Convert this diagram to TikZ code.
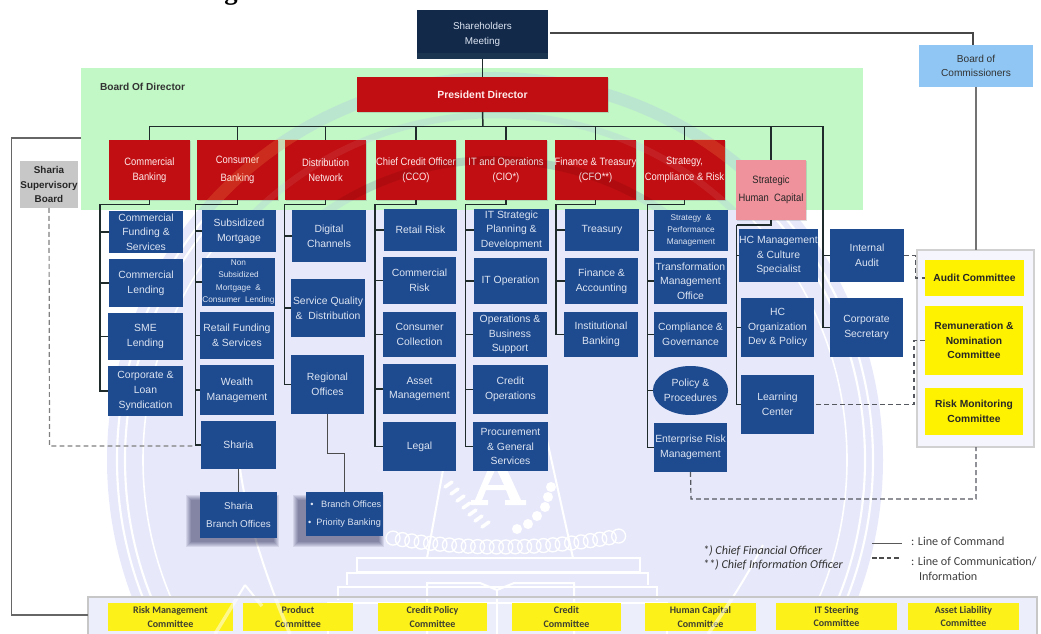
\documentclass[tikz,border=0pt]{standalone}
\usepackage{fontspec}
\usetikzlibrary{shapes.geometric,shadows}
\setmainfont{Liberation Sans}
\newfontfamily\calfont{Carlito}
\newfontfamily\serfont{Liberation Serif}
\newfontfamily\condfont[FakeStretch=0.88]{Liberation Sans}
\definecolor{lav}{HTML}{E7E9FA}
\definecolor{navy}{HTML}{12294A}
\definecolor{navyl}{HTML}{1B3550}
\definecolor{redb}{HTML}{C00E12}
\definecolor{blueb}{HTML}{1E4A8F}
\definecolor{greenb}{HTML}{C2F7C6}
\definecolor{txtl}{HTML}{DDE5F2}
\definecolor{lnk}{HTML}{1F2A2A}
\definecolor{dsh}{HTML}{55585F}
\definecolor{cdark}{HTML}{3E4030}
\definecolor{skyb}{HTML}{8FC6F3}
\definecolor{pinkb}{HTML}{F0929C}
\newcommand{\orgbox}[7]{%
  \pgfmathsetmacro\bxw{(#5-#3)*0.75}\pgfmathsetmacro\bxh{(#6-#4)*0.75}%
  \pgfmathsetmacro\bxx{(#3+#5)/2}\pgfmathsetmacro\bxy{(#4+#6)/2}%
  \node[#2,minimum width=\bxw pt,minimum height=\bxh pt] (#1) at (\bxx,\bxy) {#7};}
\newcommand{\colbus}[4]{%
  \coordinate (#1t) at (#3,#4);
  \draw[solidlink] (#1.south) |- (#1t);
  \foreach \m in {#2} \draw[solidlink] (#1t) |- (\m.west);}
\newcommand{\wmdiag}{%
  \draw (237,423) .. controls (236,470) and (250,540) .. (290,634);
  \draw (763,545) .. controls (745,580) and (725,610) .. (708,634);
  \draw (245,585) -- (215,634);
  \draw (245,585) -- (262,606);
}
\newcommand{\wmlines}{%
  \draw (357,572) -- (357,558) -- (640,558) -- (640,572) -- cycle;
  \draw (347,585) -- (347,573) -- (648,573) -- (648,585);
  \draw (338,600) -- (338,587) -- (657,587) -- (657,600);
  \draw (328,634) -- (328,603) -- (667,603) -- (667,634);
  \draw (427,634) -- (427,583) -- (480,583) -- (497,590) -- (514,583) -- (574,583) -- (574,634);
  \draw[line width=2.2pt] (497,590) -- (497,634);
}
\tikzset{
  x=0.75pt,y=-0.75pt,
  basebox/.style={inner sep=0pt,align=center,outer sep=0pt},
  bluebox/.style={basebox,fill=blueb,text=txtl,font=\fontsize{7.8}{11}\selectfont},
  bluesmall/.style={bluebox,font=\fontsize{6.2}{9.3}\selectfont},
  softshadow/.style={drop shadow={opacity=.28,shadow xshift=.9pt,shadow yshift=-.9pt}},
  redbox/.style={basebox,softshadow,fill=redb,text=white!92!red,font=\condfont\fontsize{8}{11}\selectfont},
  yelbox/.style={basebox,fill=yellow,text=black!85,font=\bfseries\fontsize{7.7}{11}\selectfont},
  combox/.style={basebox,fill=yellow!90!lav,text=cdark,font=\calfont\bfseries\fontsize{7.5}{10.2}\selectfont},
  solidlink/.style={draw=lnk,line width=0.8pt},
  graylink/.style={draw=black!60,line width=1.1pt},
  dashlink/.style={draw=dsh,line width=0.9pt,dash pattern=on 3.6pt off 2.4pt},
  seal/.style={draw=white,line width=1.5pt},
  plain/.style={inner sep=0pt,outer sep=0pt,align=left},
}
\begin{document}
\begin{tikzpicture}
\useasboundingbox (0,0) rectangle (1041,634);
\clip (0,0) rectangle (1041,634);
\node[inner sep=0pt,anchor=base,font=\serfont\bfseries\fontsize{20}{20}\selectfont] (titleg) at (231,0) {g};
% watermark
\coordinate (sc) at (495,460);
\fill[lav] (sc) circle[radius=388];
\draw[white,line width=1.6pt] (sc) circle[radius=378];
\draw[white,line width=1.6pt] (sc) circle[radius=370];
\draw[white,line width=1.2pt] (sc) circle[radius=352];
\begin{scope}[seal]
\wmlines
\wmdiag
\end{scope}
\draw[seal] (443,470) -- (427,558);
\draw[seal] (547,440) -- (573,558);
% the seal's letter, as a shape
\fill[white,even odd rule] (497,448) -- (521,500) -- (526,500) -- (526,505) -- (505,505) -- (505,500) -- (510,500) -- (506,490) -- (486,490) -- (482,500) -- (488,500) -- (488,505) -- (471,505) -- (471,500) -- (475,500) -- cycle (496,468) -- (488,485) -- (504,485) -- cycle;
\foreach \a/\b in {445/487,451/494,457/501,463/508,469/515,475/521,482/527}
  \draw[white,line width=2.6pt,line cap=round] (\a,\b) -- ++(7,-5);
\foreach \a/\b in {551/487,548/497,545/507,537/516,528/524,517/529}
  \fill[white] (\a,\b) circle[radius=5];
\foreach \i in {0,...,24}{
  \pgfmathsetmacro\qx{393+\i*9.4}
  \pgfmathsetmacro\qy{547-0.00078*(\qx-500)*(\qx-500)}
  \draw[white,line width=1pt] (\qx,\qy) circle[radius=7];
}
% green band
\fill[greenb] (81,68) rectangle (863,210);
\begin{scope}
\clip (81,68) rectangle (863,210);
\draw[blue!40!white,opacity=.18,line width=9pt] (sc) circle[radius=382];
\draw[blue!40!white,opacity=.14,line width=5pt] (sc) circle[radius=345];
\draw[blue!40!white,opacity=.14,line width=6pt] (sc) circle[radius=300];
\end{scope}
\node[plain,font=\bfseries\fontsize{7.6}{9}\selectfont,text=black!80,anchor=west] (bod) at (100,87) {Board Of Director};
% top level
\orgbox{sh}{basebox,fill=navy,text=txtl,font=\fontsize{7.4}{11}\selectfont}{417}{10}{548}{59}{Shareholders\\Meeting}
\fill[navyl] (417,53) rectangle (548,59);
\orgbox{pd}{redbox,font=\bfseries\fontsize{7.8}{10}\selectfont}{357}{77}{608}{112}{President Director}
\orgbox{boc}{basebox,fill=skyb,text=black!80,font=\fontsize{7.6}{11}\selectfont}{919}{45}{1033}{87}{Board of\\Commissioners}
% second level
\orgbox{cb}{redbox}{109}{140}{190}{200}{Commercial\\Banking}
\orgbox{nb}{redbox,font=\condfont\fontsize{8}{13.5}\selectfont}{197}{140}{278}{200}{Consumer\\Banking}
\orgbox{dn}{redbox}{285}{140}{366}{200}{Distribution\\Network}
\orgbox{cco}{redbox}{376}{140}{456}{200}{Chief Credit Officer\\(CCO)}
\orgbox{cio}{redbox}{465}{140}{547}{200}{IT and Operations\\(CIO*)}
\orgbox{cfo}{redbox}{555}{140}{636}{200}{Finance \& Treasury\\(CFO**)}
\orgbox{scr}{redbox,font=\condfont\fontsize{8}{12.5}\selectfont}{644}{140}{725}{200}{Strategy,\\Compliance \& Risk}
\orgbox{hc}{basebox,softshadow,fill=pinkb,text=black!85,font=\condfont\fontsize{8}{13.5}\selectfont}{736}{160}{806}{220}{Strategic\\Human~ Capital}
\orgbox{ssb}{basebox,fill=black!22,text=black!85,font=\bfseries\fontsize{7.4}{11}\selectfont}{20}{161}{78}{208}{Sharia\\Supervisory\\Board}
% red-box seal stripes
\begin{scope}
\clip (109,140) rectangle (725,200);
\draw[orange!70!white,opacity=.2,line width=9pt] (sc) circle[radius=382];
\draw[white,opacity=.08,line width=5pt] (sc) circle[radius=345];
\draw[black,opacity=.08,line width=6pt] (sc) circle[radius=300];
\end{scope}
% column 1
\orgbox{a1}{bluebox}{109}{211}{183}{253}{Commercial\\Funding \&\\Services}
\orgbox{a2}{bluebox}{109}{259}{183}{307}{Commercial\\Lending}
\orgbox{a3}{bluebox}{108}{313}{183}{360}{SME\\Lending}
\orgbox{a4}{bluebox}{108}{366}{183}{416}{Corporate \&\\Loan\\Syndication}
% column 2
\orgbox{b1}{bluebox}{202}{210}{276}{252}{Subsidized\\Mortgage}
\orgbox{b2}{bluesmall}{202}{258}{275}{306}{Non\\Subsidized\\Mortgage~ \&\\Consumer~ Lending}
\orgbox{b3}{bluebox}{200}{312}{274}{359}{Retail Funding\\\& Services}
\orgbox{b4}{bluebox}{200}{365}{274}{415}{Wealth\\Management}
\orgbox{b5}{bluebox}{201}{421}{276}{469}{Sharia}
% column 3
\orgbox{c1}{bluebox}{292}{210}{366}{262}{Digital\\Channels}
\orgbox{c2}{bluebox}{291}{279}{365}{337}{Service Quality\\\&~ Distribution}
\orgbox{c3}{bluebox}{291}{355}{364}{414}{Regional\\Offices}
% column 4
\orgbox{d1}{bluebox}{384}{209}{457}{251}{Retail Risk}
\orgbox{d2}{bluebox}{383}{257}{456}{304}{Commercial\\Risk}
\orgbox{d3}{bluebox}{383}{312}{456}{357}{Consumer\\Collection}
\orgbox{d4}{bluebox}{383}{364}{456}{414}{Asset\\Management}
\orgbox{d5}{bluebox}{383}{422}{456}{471}{Legal}
% column 5
\orgbox{e1}{bluebox}{474}{209}{549}{251}{IT Strategic\\Planning \&\\Development}
\orgbox{e2}{bluebox}{474}{258}{547}{304}{IT Operation}
\orgbox{e3}{bluebox}{473}{312}{547}{357}{Operations \&\\Business\\Support}
\orgbox{e4}{bluebox}{473}{365}{548}{414}{Credit\\Operations}
\orgbox{e5}{bluebox}{473}{422}{548}{471}{Procurement\\\& General\\Services}
% column 6
\orgbox{f1}{bluebox}{565}{209}{639}{251}{Treasury}
\orgbox{f2}{bluebox}{565}{258}{638}{304}{Finance \&\\Accounting}
\orgbox{f3}{bluebox}{564}{312}{638}{357}{Institutional\\Banking}
% column 7
\orgbox{g1}{bluesmall,font=\fontsize{6.2}{9}\selectfont}{654}{210}{728}{251}{Strategy~ \&\\Performance\\Management}
\orgbox{g2}{bluebox}{654}{258}{727}{304}{Transformation\\Management\\Office}
\orgbox{g3}{bluebox}{654}{312}{727}{357}{Compliance \&\\Governance}
\node[bluebox,ellipse,minimum width=54.75pt,minimum height=36.75pt] (g4) at (690.5,390.5) {Policy \&\\Procedures};
\orgbox{g5}{bluebox}{654}{423}{727}{472}{Enterprise Risk\\Management}
% column 8, 9
\orgbox{h1}{bluebox}{742}{229}{815}{282}{HC Management\\\& Culture\\Specialist}
\orgbox{h2}{bluebox}{741}{298}{814}{357}{HC\\Organization\\Dev \& Policy}
\orgbox{h3}{bluebox}{741}{375}{814}{434}{Learning\\Center}
\orgbox{i1}{bluebox}{830}{229}{904}{282}{Internal\\Audit}
\orgbox{i2}{bluebox}{830}{298}{903}{357}{Corporate\\Secretary}
% shadows and lower boxes
\foreach \k in {0,...,5}{
  \fill[black!80!blue,opacity=.085] (186+\k,495+\k) rectangle (279-\k,547-\k);
  \fill[black!80!blue,opacity=.085] (293+\k,495+\k) rectangle (384-\k,547-\k);
}
\orgbox{b6}{bluebox,font=\fontsize{7.4}{13.5}\selectfont}{200}{492}{277}{538}{Sharia\\Branch Offices}
\orgbox{c4}{bluebox,font=\fontsize{6.9}{13.5}\selectfont}{306}{492}{383}{536}{~\textbullet~~ Branch Offices\\\textbullet~ Priority Banking}
% committee panel
\orgbox{cp}{basebox,fill=white!55!lav,draw=black!18,line width=2.2pt}{917}{250}{1034}{447}{}
\orgbox{ac}{yelbox}{925}{260}{1024}{296}{Audit Committee}
\orgbox{rc}{yelbox}{925}{306}{1023}{375}{Remuneration \&\\Nomination\\Committee}
\orgbox{mc}{yelbox}{925}{388}{1023}{435}{Risk Monitoring\\Committee}
% bottom panel
\orgbox{bp}{basebox,fill=lav!75!white,draw=black!22,line width=2.2pt}{88}{597}{1037}{640}{}
\begin{scope}
\clip (90,599) rectangle (1035,634);
\begin{scope}[draw=white,line width=1.5pt]
\wmlines
\end{scope}
\end{scope}
\orgbox{k1}{combox}{108}{603}{233}{631}{Risk Management\\Committee}
\orgbox{k2}{combox}{243}{603}{353}{631}{Product\\Committee}
\orgbox{k3}{combox}{378}{603}{487}{631}{Credit Policy\\Committee}
\orgbox{k4}{combox}{512}{603}{621}{631}{Credit\\Committee}
\orgbox{k5}{combox}{645}{603}{756}{631}{Human Capital\\Committee}
\orgbox{k6}{combox}{776}{603}{897}{630}{IT Steering\\Committee}
\orgbox{k7}{combox}{908}{603}{1019}{630}{Asset Liability\\Committee}
\begin{scope}
\clip (90,599) rectangle (1035,634);
\begin{scope}[draw=white,opacity=.5,line width=2.6pt]
\wmdiag
\end{scope}
\end{scope}
% connectors
\coordinate (bus) at (483,126.5);
\draw[solidlink] (sh.south) -- (pd.north);
\draw[solidlink,line width=1.1pt] (pd.south) -- (bus);
\foreach \n in {cb,nb,dn,cco,cio,cfo,scr,hc}
  \draw[solidlink] (bus) -| (\n.north);
\coordinate (shr) at (550,33);
\coordinate (bocn) at (973,45);
\draw[graylink,draw=black!72] (shr) -| (bocn);
\coordinate (cpn) at (976,250);
\draw[graylink,draw=black!55,line width=1.4pt] (boc.south) -- (cpn);
% col buses
\colbus{cb}{a1,a2,a3,a4}{100}{204.5}
\colbus{nb}{b1,b2,b3,b4,b5}{195.5}{204.5}
\colbus{dn}{c1,c2,c3}{284.5}{204.5}
\colbus{cco}{d1,d2,d3,d4,d5}{375}{204.5}
\colbus{cio}{e1,e2,e3,e4,e5}{465.5}{204.5}
\colbus{cfo}{f1,f2,f3}{556}{204.5}
\colbus{scr}{g1,g2,g3,g4,g5}{647.5}{204.5}
\colbus{hc}{h1,h2,h3}{736.5}{225}
\coordinate (ibus) at (823,128);
\draw[solidlink] (bus) -| (ibus);
\foreach \m in {i1,i2} \draw[solidlink] (ibus) |- (\m.west);
\draw[graylink,draw=black!70] (b5.south) -- (b6.north);
\coordinate (rb) at (328,453.5);
\draw[graylink,draw=black!70] (c3.south) |- (rb) -| (c4.north);
% outer frame
\coordinate (fa) at (81,138);
\coordinate (fb) at (88,615);
\coordinate (fc) at (11.5,138);
\draw[graylink] (fa) -- (fc) |- (fb);
% dashed
\coordinate (dk) at (49.5,446);
\coordinate (dj) at (195,446);
\draw[dashlink,draw=black!50] (ssb.south) -- (dk) -- (dj);
\coordinate (ia) at (915.5,255.5);
\draw[dashlink] (i1.east) -- (ia) |- (ac.west);
\coordinate (ib) at (914,340.5);
\draw[dashlink] (rc.west) -- (ib) |- (h3.east);
\coordinate (ek) at (691,499);
\coordinate (cps) at (976,447);
\draw[dashlink] (g5.south) -- (ek) -| (cps);
% notes and legend
\node[plain,anchor=west,font=\calfont\itshape\fontsize{9.1}{11}\selectfont,text=black!80] (note) at (703,558) {*) Chief Financial Officer\\**) Chief Information Officer};
\coordinate (la) at (872,543.5); \coordinate (lb) at (902,543.5);
\draw[draw=black!65,line width=1pt] (la) -- (lb);
\coordinate (lc) at (872,558); \coordinate (ld) at (900,558);
\draw[draw=black!70,line width=.8pt,dash pattern=on 3.4pt off 2.2pt] (lc) -- (ld);
\node[plain,anchor=west,font=\calfont\fontsize{9.1}{11}\selectfont,text=black!75] (lg1) at (911,541) {: Line of Command};
\node[plain,anchor=west,font=\calfont\fontsize{9.1}{11}\selectfont,text=black!75] (lg2) at (911,569) {: Line of Communication/\\\hspace*{6pt}Information};
\end{tikzpicture}
\end{document}
